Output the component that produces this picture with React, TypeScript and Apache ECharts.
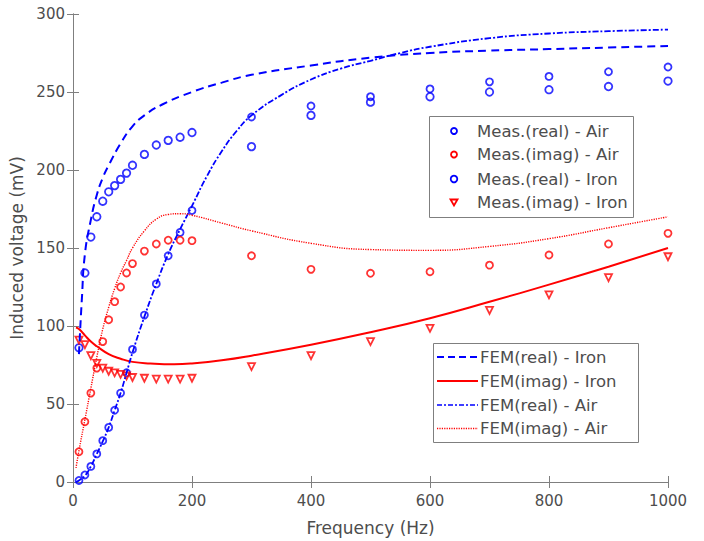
import React, { useEffect, useRef } from "react";
import * as echarts from "echarts";

// ---- Measurement data ----
const MEAS_FREQ = [10, 20, 30, 40, 50, 60, 70, 80, 90, 100, 120, 140, 160, 180, 200, 300, 400, 500, 600, 700, 800, 900, 1000];
const MEAS_REAL_AIR = [1, 4.5, 10, 18, 26.5, 35, 46, 57, 70, 85, 107, 127, 145, 160, 174, 234, 241, 247, 252, 256.5, 260, 263, 266];
const MEAS_IMAG_AIR = [19.4, 38.6, 57, 73, 90, 104, 115.6, 125, 134, 140, 148, 152.6, 155, 155, 154.7, 145, 136.3, 133.8, 134.8, 139, 145.5, 152.6, 159.4];
const MEAS_REAL_IRON = [86, 134, 157, 170, 180, 186, 190, 194, 198, 203, 210, 216, 219, 221, 224, 215, 235, 243.5, 247, 250, 251.5, 253.5, 257];
const MEAS_IMAG_IRON = [91, 88, 81, 76, 73, 71, 70, 69, 68, 67, 66.5, 66, 66, 66, 66.5, 74, 81, 90, 98.5, 110, 120, 131, 144.4];

// ---- FEM curves ----
const FEM_REAL_IRON_F = [10, 15, 20, 30, 40, 50, 60, 80, 100, 120, 150, 200, 250, 300, 400, 500, 600, 700, 800, 900, 1000];
const FEM_REAL_IRON = [82, 118, 146, 168, 184, 195, 203, 217, 228, 235, 242, 250, 256, 261, 267, 272, 275, 276.5, 277.5, 278.5, 279.5];

const FEM_IMAG_IRON_F = [5, 10, 20, 30, 40, 60, 80, 100, 130, 170, 200, 250, 300, 400, 500, 600, 700, 800, 900, 1000];
const FEM_IMAG_IRON = [99, 98, 94, 90, 87, 82, 79, 77, 76, 75.5, 76, 78, 81, 88, 96, 105, 115.5, 126.5, 138, 150];

const FEM_REAL_AIR_F = [5, 10, 20, 30, 40, 50, 60, 70, 80, 90, 100, 120, 140, 160, 180, 200, 225, 250, 275, 300, 350, 400, 450, 500, 550, 600, 700, 800, 900, 1000];
const FEM_REAL_AIR = [0, 1, 4, 10, 18, 26, 35, 46, 57, 70, 83, 106, 127, 146, 162, 177, 196, 212, 225, 235, 248, 258, 265, 270, 275, 279, 284.5, 287.5, 289, 290];

const FEM_IMAG_AIR_F = [5, 10, 20, 30, 40, 50, 60, 70, 80, 90, 100, 120, 140, 160, 180, 200, 250, 300, 400, 500, 600, 700, 800, 900, 1000];
const FEM_IMAG_AIR = [9, 20, 40, 60, 80, 98, 112, 124, 134, 142, 150, 161, 168.5, 171.5, 172, 171, 166, 161, 153, 149, 148.5, 151, 156, 163, 170];

const MEAS_NAMES = ["Meas.(real) - Air", "Meas.(imag) - Air", "Meas.(real) - Iron", "Meas.(imag) - Iron"];
const FEM_NAMES = ["FEM(real) - Iron", "FEM(imag) - Iron", "FEM(real) - Air", "FEM(imag) - Air"];

const BLUE = "#0000ff";
const RED = "#ff0000";
const AXIS = "#7f7f7f";
const TEXT = "#4d4d4d";
const FONT = "DejaVu Sans";

function pairs(xs: number[], ys: number[]) {
  return xs.map((x, i) => [x, ys[i]]);
}

export default function App() {
  const ref = useRef<HTMLDivElement>(null);
  useEffect(() => {
    if (!ref.current) return;
    const chart = echarts.init(ref.current, null, { renderer: "svg" });

    const axisCommon = {
      axisLine: { show: true, lineStyle: { color: AXIS, width: 1 } },
      axisTick: { show: true, inside: true, length: 6, lineStyle: { color: AXIS, width: 1 } },
      splitLine: { show: false },
    };

    const scatter = (name: string, ys: number[], color: string, symbol: string, size: number, rotate = 0) => ({
      name,
      type: "scatter",
      data: pairs(MEAS_FREQ, ys),
      symbol,
      symbolSize: size,
      symbolRotate: rotate,
      itemStyle: { color: "rgba(0,0,0,0)", borderColor: color, borderWidth: 1.8 },
      z: 2,
    });

    const line = (name: string, xs: number[], ys: number[], color: string, width: number, type: any) => ({
      name,
      type: "line",
      data: pairs(xs, ys),
      showSymbol: false,
      symbol: "none",
      smooth: 0.5,
      lineStyle: { color, width, type },
      z: 3,
    });

    const legRowsA = [131, 154.5, 179, 202];
    const legRowsB = [357, 381, 405, 428.5];
    const legendText = (x: number, y: number, text: string) => ({
      type: "text",
      x,
      y,
      style: { text, fill: TEXT, font: `16.5px "${FONT}"`, textVerticalAlign: "middle", verticalAlign: "middle" },
      z: 20,
    });

    const markerA = [
      { type: "circle", shape: { cx: 454, cy: legRowsA[0], r: 3 }, style: { fill: "none", stroke: BLUE, lineWidth: 1.8 }, z: 20 },
      { type: "circle", shape: { cx: 454, cy: legRowsA[1], r: 3 }, style: { fill: "none", stroke: RED, lineWidth: 1.8 }, z: 20 },
      { type: "circle", shape: { cx: 454, cy: legRowsA[2], r: 3.3 }, style: { fill: "none", stroke: BLUE, lineWidth: 1.8 }, z: 20 },
      {
        type: "polygon",
        shape: { points: [[450.5, legRowsA[3] - 2.5], [457.5, legRowsA[3] - 2.5], [454, legRowsA[3] + 3.5]] },
        style: { fill: "none", stroke: RED, lineWidth: 1.8 },
        z: 20,
      },
    ];

    const lineSamples = [
      { color: BLUE, width: 2, dash: [7, 4] },
      { color: RED, width: 2, dash: null },
      { color: BLUE, width: 1.6, dash: [5, 2, 2, 2] },
      { color: RED, width: 1.3, dash: [1.2, 1.2] },
    ].map((s, i) => ({
      type: "line",
      shape: { x1: 437, y1: legRowsB[i], x2: 478, y2: legRowsB[i] },
      style: { stroke: s.color, lineWidth: s.width, lineDash: s.dash || undefined },
      z: 20,
    }));

    const option: any = {
      animation: false,
      backgroundColor: "#ffffff",
      textStyle: { fontFamily: FONT },
      grid: { left: 73, top: 14, width: 595, height: 468, containLabel: false },
      xAxis: [
        {
          type: "value",
          min: 0,
          max: 1000,
          interval: 200,
          position: "bottom",
          ...axisCommon,
          axisLabel: { color: TEXT, fontSize: 15, margin: 11, fontFamily: FONT, formatter: (v: number) => String(v) },
          name: "Frequency (Hz)",
          nameLocation: "middle",
          nameGap: 37,
          nameTextStyle: { color: TEXT, fontSize: 17, fontFamily: FONT },
        },
        {
          type: "value",
          min: 0,
          max: 1000,
          interval: 200,
          position: "top",
          ...axisCommon,
          axisLabel: { show: false },
        },
      ],
      yAxis: [
        {
          type: "value",
          min: 0,
          max: 300,
          interval: 50,
          position: "left",
          ...axisCommon,
          axisLabel: { color: TEXT, fontSize: 15, margin: 8, fontFamily: FONT },
          name: "Induced voltage (mV)",
          nameLocation: "middle",
          nameGap: 43,
          nameTextStyle: { color: TEXT, fontSize: 17, fontFamily: FONT },
        },
        {
          type: "value",
          min: 0,
          max: 300,
          interval: 50,
          position: "right",
          ...axisCommon,
          axisLabel: { show: false },
        },
      ],
      series: [
        scatter(MEAS_NAMES[0], MEAS_REAL_AIR, BLUE, "circle", 7),
        scatter(MEAS_NAMES[1], MEAS_IMAG_AIR, RED, "circle", 7),
        scatter(MEAS_NAMES[2], MEAS_REAL_IRON, BLUE, "circle", 7.5),
        scatter(MEAS_NAMES[3], MEAS_IMAG_IRON, RED, "triangle", 7, 180),
        line(FEM_NAMES[0], FEM_REAL_IRON_F, FEM_REAL_IRON, BLUE, 2, [8, 5]),
        line(FEM_NAMES[1], FEM_IMAG_IRON_F, FEM_IMAG_IRON, RED, 2, "solid"),
        line(FEM_NAMES[2], FEM_REAL_AIR_F, FEM_REAL_AIR, BLUE, 1.8, [6, 2, 2, 2]),
        line(FEM_NAMES[3], FEM_IMAG_AIR_F, FEM_IMAG_AIR, RED, 1.4, [1.2, 1.2]),
      ],
      graphic: [
        {
          type: "rect",
          shape: { x: 429.5, y: 116.5, width: 204, height: 101 },
          style: { fill: "#ffffff", stroke: AXIS, lineWidth: 1 },
          z: 19,
        },
        ...markerA,
        ...MEAS_NAMES.map((n, i) => legendText(477, legRowsA[i], n)),
        {
          type: "rect",
          shape: { x: 433.5, y: 343.5, width: 205, height: 99 },
          style: { fill: "#ffffff", stroke: AXIS, lineWidth: 1 },
          z: 19,
        },
        ...lineSamples,
        ...FEM_NAMES.map((n, i) => legendText(480, legRowsB[i], n)),
      ],
    };

    chart.setOption(option);
    return () => chart.dispose();
  }, []);

  return <div ref={ref} style={{ position: "fixed", left: 0, top: 0, width: 704, height: 541 }} />;
}
